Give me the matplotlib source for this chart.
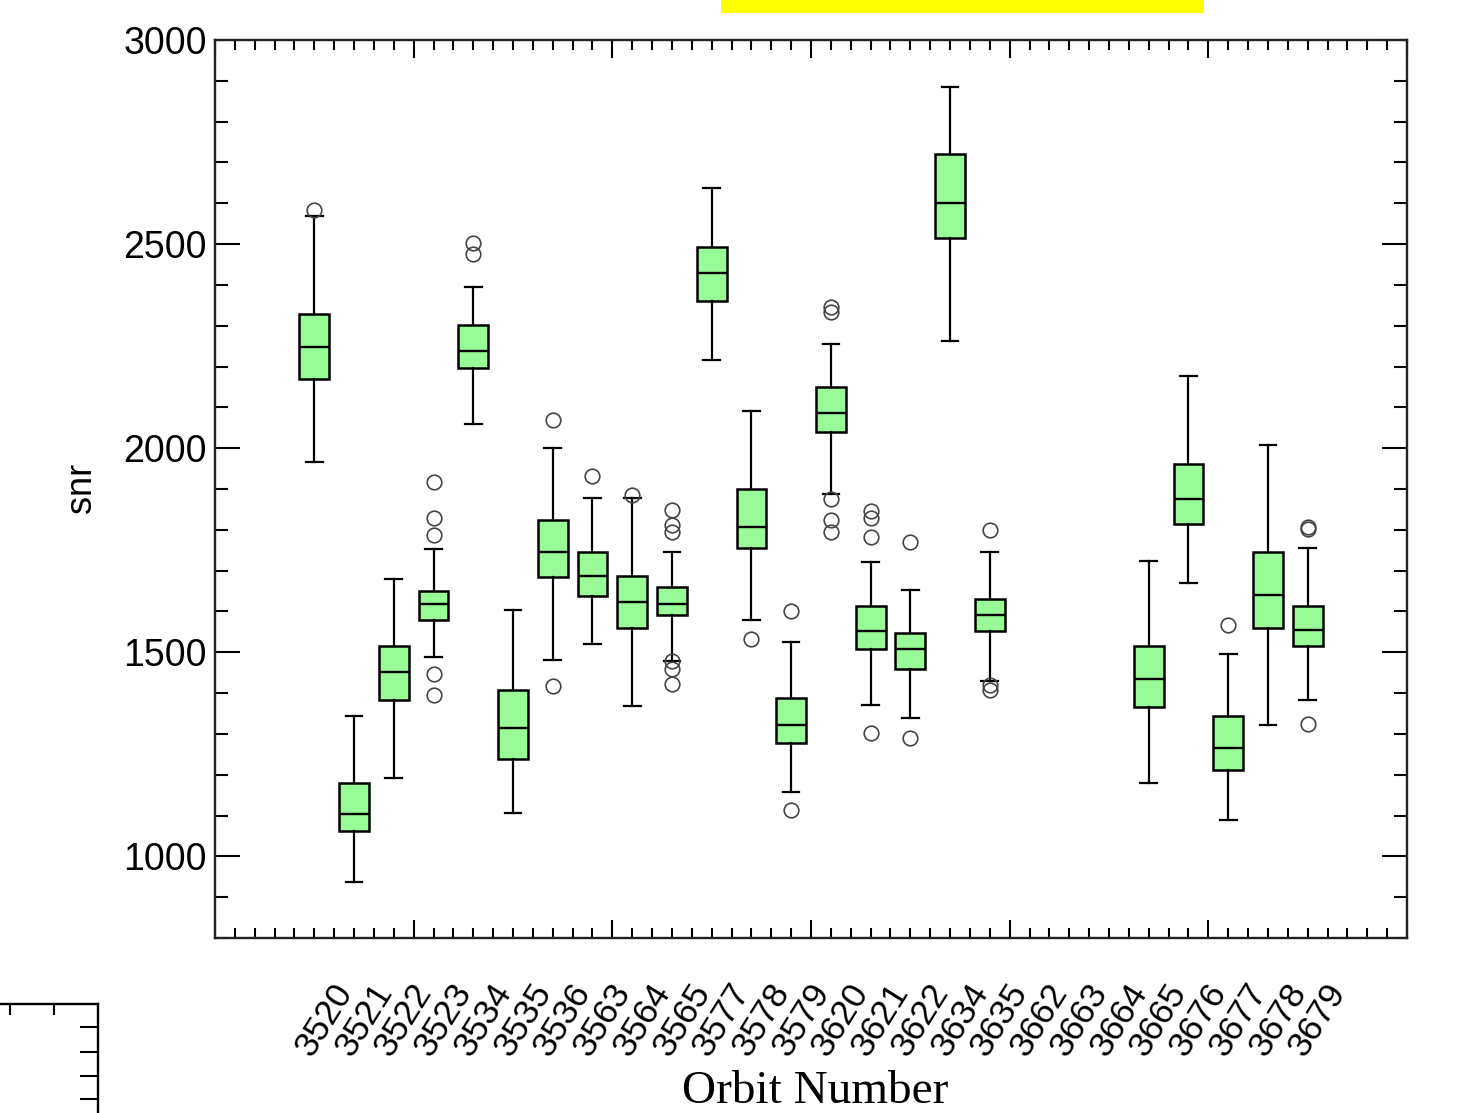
import matplotlib
matplotlib.use("Agg")
import matplotlib.pyplot as plt
from matplotlib.patches import Rectangle
from matplotlib.ticker import MultipleLocator

# орбіти (підписи осі X) — для 3662, 3663, 3664 даних немає
orbits = ["3520", "3521", "3522", "3523", "3534", "3535", "3536", "3563", "3564",
          "3565", "3577", "3578", "3579", "3620", "3621", "3622", "3634", "3635",
          "3662", "3663", "3664", "3665", "3676", "3677", "3678", "3679"]

# статистики боксів
whislo = [1966, 937, 1192, 1489, 2060, 1106, 1481, 1520, 1368, 1479, 2217, 1579, 1157,
          1887, 1372, 1340, 2263, 1430, None, None, None, 1180, 1669, 1090, 1321, 1383]
q1 = [2169, 1063, 1383, 1579, 2196, 1238, 1684, 1637, 1560, 1591, 2361, 1755, 1277,
      2040, 1509, 1458, 2516, 1552, None, None, None, 1367, 1814, 1211, 1560, 1516]
med = [2247, 1104, 1451, 1618, 2237, 1314, 1746, 1688, 1623, 1618, 2428, 1807, 1321,
       2087, 1551, 1509, 2600, 1591, None, None, None, 1435, 1876, 1266, 1641, 1555]
q3 = [2329, 1180, 1516, 1649, 2302, 1407, 1825, 1746, 1688, 1660, 2493, 1900, 1388,
      2150, 1613, 1547, 2720, 1630, None, None, None, 1516, 1962, 1344, 1746, 1613]
whishi = [2569, 1344, 1680, 1754, 2395, 1603, 2001, 1879, 1877, 1746, 2638, 2091, 1524,
          2255, 1722, 1653, 2884, 1746, None, None, None, 1723, 2177, 1496, 2008, 1755]
fliers = [
    [2584], [], [], [1918, 1830, 1787, 1447, 1396], [2502, 2475], [],
    [2069, 1417], [1933], [1886], [1848, 1812, 1794, 1478, 1460, 1423], [],
    [1533], [1600, 1114], [2346, 2334, 1875, 1824, 1795], [1846, 1828, 1782, 1302],
    [1770, 1289], [], [1800, 1420, 1408], [], [], [], [], [], [1566], [],
    [1808, 1802, 1325],
]

positions = [i + 2.5 for i in range(len(orbits))]

stats = []
box_pos = []
for i in range(len(orbits)):
    if med[i] is None:
        continue
    stats.append(dict(whislo=whislo[i], q1=q1[i], med=med[i], q3=q3[i],
                      whishi=whishi[i], fliers=fliers[i], label=orbits[i]))
    box_pos.append(positions[i])

fig = plt.figure(figsize=(14.68, 11.13), dpi=100)
ax = fig.add_axes([215 / 1468, 1 - 938 / 1113, 1192 / 1468, 898 / 1113])

ax.bxp(stats, positions=box_pos, widths=0.75, capwidths=0.42, patch_artist=True,
       manage_ticks=False,
       boxprops=dict(facecolor="#98fb98", edgecolor="black", linewidth=1.8),
       medianprops=dict(color="black", linewidth=1.7),
       whiskerprops=dict(color="black", linewidth=1.6),
       capprops=dict(color="black", linewidth=1.6),
       flierprops=dict(marker="o", markersize=10.5, markerfacecolor="none",
                       markeredgecolor="#444444", markeredgewidth=1.2))

ax.set_xlim(0, 30)
ax.set_ylim(800, 3000)

ax.xaxis.set_major_locator(MultipleLocator(5))
ax.xaxis.set_minor_locator(MultipleLocator(0.5))
ax.yaxis.set_major_locator(MultipleLocator(500))
ax.yaxis.set_minor_locator(MultipleLocator(100))
ax.tick_params(axis="both", which="both", direction="in", width=1.5,
               top=True, right=True)
ax.tick_params(axis="x", which="major", length=13, labelbottom=False)
ax.tick_params(axis="x", which="minor", length=7)
ax.tick_params(axis="y", which="major", length=18, labelsize=27, pad=6)
ax.tick_params(axis="y", which="minor", length=9.5)
for lab in ax.get_yticklabels():
    lab.set_family("Liberation Sans")
for sp in ax.spines.values():
    sp.set_linewidth(1.7)
    sp.set_color("#222222")

# підписи орбіт під кутом
for p, name in zip(positions, orbits):
    ax.annotate(name, xy=(p, 0), xycoords=("data", "axes fraction"),
                xytext=(10, -82), textcoords="offset pixels",
                rotation=58, ha="center", va="center",
                fontsize=25.5, family="Liberation Sans")

fig.text(82 / 1468, 1 - 488 / 1113, "snr", rotation=90, ha="center", va="center",
         fontsize=26, family="Liberation Sans")
fig.text(815 / 1468, 1 - 1092 / 1113, "Orbit Number", ha="center", va="center",
         fontsize=34, family="Liberation Serif")

# жовта плашка заголовка (обрізана згори)
fig.patches.append(Rectangle((721 / 1468, 1 - 13 / 1113), 483 / 1468, 13 / 1113,
                             transform=fig.transFigure, facecolor="#ffff00",
                             edgecolor="none"))

# шматок сусіднього графіка внизу зліва
ax2 = fig.add_axes([-100 / 1468, -87 / 1113, 198 / 1468, 196 / 1113])
ax2.set_xlim(0, 198)
ax2.set_ylim(0, 196)
ax2.spines["left"].set_visible(False)
ax2.spines["bottom"].set_visible(False)
for sp in ("top", "right"):
    ax2.spines[sp].set_linewidth(1.7)
ax2.set_xticks([110, 154])
ax2.set_yticks([101, 124, 148, 173])
ax2.tick_params(direction="in", top=True, bottom=False, left=False, right=True,
                labeltop=False, labelbottom=False, labelleft=False,
                labelright=False, width=1.5)
ax2.tick_params(axis="x", length=8)
ax2.tick_params(axis="y", length=13)

fig.savefig("out.png", dpi=100)
